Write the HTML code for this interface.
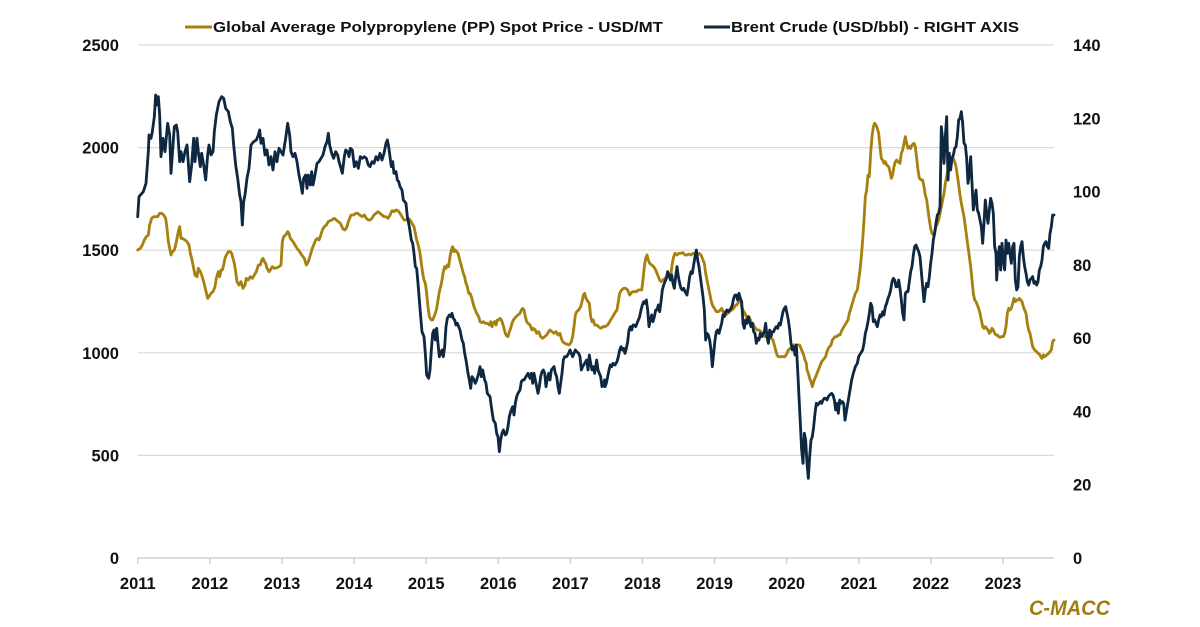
<!DOCTYPE html>
<html><head><meta charset="utf-8"><style>
html,body{margin:0;padding:0;background:#fff;}
svg{display:block;}
text{font-family:"Liberation Sans",Arial,sans-serif;font-weight:bold;fill:#111;}
</style></head><body>
<svg width="1200" height="627" viewBox="0 0 1200 627" xmlns="http://www.w3.org/2000/svg">
<rect width="1200" height="627" fill="#fff"/>
<!-- gridlines -->
<g stroke="#d9d9d9" stroke-width="1.2">
<line x1="137.8" y1="45" x2="1054" y2="45"/>
<line x1="137.8" y1="147.6" x2="1054" y2="147.6"/>
<line x1="137.8" y1="250.2" x2="1054" y2="250.2"/>
<line x1="137.8" y1="352.8" x2="1054" y2="352.8"/>
<line x1="137.8" y1="455.4" x2="1054" y2="455.4"/>
</g>
<g stroke="#d0d0d0" stroke-width="1.5">
<line x1="137.8" y1="558" x2="1054" y2="558"/>
<line x1="137.8" y1="558" x2="137.8" y2="564"/>
<line x1="209.9" y1="558" x2="209.9" y2="564"/>
<line x1="282" y1="558" x2="282" y2="564"/>
<line x1="354.1" y1="558" x2="354.1" y2="564"/>
<line x1="426.2" y1="558" x2="426.2" y2="564"/>
<line x1="498.3" y1="558" x2="498.3" y2="564"/>
<line x1="570.4" y1="558" x2="570.4" y2="564"/>
<line x1="642.5" y1="558" x2="642.5" y2="564"/>
<line x1="714.6" y1="558" x2="714.6" y2="564"/>
<line x1="786.7" y1="558" x2="786.7" y2="564"/>
<line x1="858.8" y1="558" x2="858.8" y2="564"/>
<line x1="930.9" y1="558" x2="930.9" y2="564"/>
<line x1="1003" y1="558" x2="1003" y2="564"/>
</g>
<!-- left axis labels -->
<g font-size="16.5" text-anchor="end">
<text x="119" y="51">2500</text>
<text x="119" y="153.6">2000</text>
<text x="119" y="256.2">1500</text>
<text x="119" y="358.8">1000</text>
<text x="119" y="461.4">500</text>
<text x="119" y="564">0</text>
</g>
<!-- right axis labels -->
<g font-size="16.5" text-anchor="start">
<text x="1073" y="51">140</text>
<text x="1073" y="124.3">120</text>
<text x="1073" y="197.6">100</text>
<text x="1073" y="270.9">80</text>
<text x="1073" y="344.1">60</text>
<text x="1073" y="417.4">40</text>
<text x="1073" y="490.7">20</text>
<text x="1073" y="564">0</text>
</g>
<!-- x labels -->
<g font-size="16.5" text-anchor="middle">
<text x="137.8" y="589">2011</text>
<text x="209.9" y="589">2012</text>
<text x="282" y="589">2013</text>
<text x="354.1" y="589">2014</text>
<text x="426.2" y="589">2015</text>
<text x="498.3" y="589">2016</text>
<text x="570.4" y="589">2017</text>
<text x="642.5" y="589">2018</text>
<text x="714.6" y="589">2019</text>
<text x="786.7" y="589">2020</text>
<text x="858.8" y="589">2021</text>
<text x="930.9" y="589">2022</text>
<text x="1003" y="589">2023</text>
</g>
<!-- legend -->
<line x1="185" y1="27" x2="212" y2="27" stroke="#A7800F" stroke-width="3"/>
<text x="213" y="32" font-size="15" textLength="450" lengthAdjust="spacingAndGlyphs">Global Average Polypropylene (PP) Spot Price - USD/MT</text>
<line x1="704" y1="27" x2="730" y2="27" stroke="#0E2841" stroke-width="3"/>
<text x="731" y="32" font-size="15" textLength="288" lengthAdjust="spacingAndGlyphs">Brent Crude (USD/bbl) - RIGHT AXIS</text>
<!-- C-MACC -->
<text x="1029" y="615" font-size="21" font-style="italic" fill="#A07C12" style="fill:#A07C12" textLength="81" lengthAdjust="spacingAndGlyphs">C-MACC</text>

<!-- series: gold (PP) -->
<g fill="none" stroke="#A7800F" stroke-width="8.5" stroke-linejoin="round" stroke-linecap="round">
<polyline transform="translate(135,85) scale(0.33333)" points="8,495 16,490 22,480 28,465 34,455 40,450 44,420 50,400 56,395 62,395 68,395 74,385 80,385 86,390 92,400 96,430 100,470 104,490 108,510 112,500 118,495 122,480 126,460 130,440 134,425 138,460 142,460 150,465 156,470 162,480 166,505 170,520 174,540 180,570 186,575 190,550 196,560 200,570 206,590 212,615 218,640 222,635 228,625 234,620 240,605 244,580 250,560 254,575 258,555 262,555 266,540 270,520 274,510 280,500 286,500 290,505 294,520 298,535 302,560 306,590 312,600 318,590 324,610 330,600 334,580 340,585 346,575 352,580 358,570 364,560 370,540 376,540 380,525 384,520 388,530 392,535 396,550 402,560 406,555 412,545 418,550 426,548 432,545 438,540 442,470 446,455 452,450 458,440 462,445 466,460 474,470 480,480 486,490 494,500 500,510 508,520 514,540 520,530 526,510 532,490 538,475 542,465 548,460 552,465 556,455 562,435 568,425 574,420 580,410 590,405 598,400 604,405 610,410 616,415 624,432 630,435 636,425 640,410 648,390 656,390 662,385 668,385 674,390 682,395 688,390 694,400 700,405"/>
<polyline transform="translate(370,140) scale(0.33333)" points="-5,240 0,240 6,235 12,225 18,220 24,215 30,220 36,225 42,230 48,230 54,235 60,225 66,212 72,215 78,210 84,212 90,220 96,230 102,240 108,240 114,235 120,240 126,250 132,260 136,280 140,300 146,320 150,340 154,370 158,400 162,420 166,430 170,460 174,500 178,530 184,540 188,540 192,530 196,520 200,505 204,480 208,455 212,440 216,420 220,395 224,380 228,385 232,375 236,380 240,350 244,330 248,320 252,335 256,330 260,335 264,340 268,355 272,370 276,385 280,400 284,410 288,430 292,440 296,460 300,460 304,470 308,485 312,500 316,510 320,520 326,530 330,545 336,548 340,545 346,550 352,550 358,555 362,545 366,560 370,548 374,545 378,555 382,540 386,540 390,535 394,540 398,550 402,565 406,580 410,588 414,590 418,575 422,565 426,550 430,540 434,535 438,530 444,525 450,520 454,510 458,505 462,510 466,530 470,545 474,550 480,555 486,570 490,565 496,570 500,580 506,575 512,590 518,595 524,590 530,585 536,575 540,570 546,575 552,580 558,575 564,585 570,580 574,595 578,605 584,610 590,612 596,615 600,612 604,605 608,590 612,560 616,525 620,515 626,510 632,500 636,485 640,465 644,460 648,475 654,485 658,490 662,530 666,545 670,540 674,555 680,555 686,560 692,565 700,560"/>
<polyline transform="translate(605,230) scale(0.33333)" points="-5,290 0,290 8,285 14,275 20,265 26,255 32,245 36,240 40,215 44,190 50,180 56,175 62,175 68,180 74,195 78,190 82,185 88,185 94,185 100,180 106,180 110,180 114,150 118,110 122,85 126,75 130,90 134,100 140,105 146,110 152,120 158,135 164,150 168,155 174,150 180,145 186,140 192,135 198,130 202,100 206,80 210,70 216,75 222,70 228,70 234,68 240,75 246,75 252,72 258,75 264,70 270,72 276,75 282,70 288,75 294,90 298,100 302,130 306,150 310,170 314,190 318,210 322,225 328,235 334,245 340,245 346,240 350,235 356,250 362,255 368,250 374,245 380,240 386,235 392,225 396,225 400,215 406,205 410,230 416,245 420,250 426,265 432,260 436,270 440,280 444,280 448,290 452,295 456,300 462,300 468,305 474,315 480,320 486,320 492,320 498,325 504,330 508,345 512,360 516,375 520,380 526,380 530,380 536,380 540,380 546,370 550,360 556,355 560,350 566,345 572,345 578,345 584,345 588,355 592,365 596,375 600,390 604,400 606,420 610,430 614,445 618,455 622,470 626,455 630,445 634,435 638,425 642,415 646,405 650,395 654,390 658,385 662,380 666,365 670,355 674,350 678,345 682,330 686,325 690,320 696,320 700,315"/>
<polyline transform="translate(840,100) scale(0.33333)" points="-5,705 0,705 6,690 12,680 18,670 24,660 28,640 34,620 40,600 46,580 52,570 56,540 60,510 64,470 68,420 72,360 76,290 80,270 84,225 88,230 92,160 96,110 100,80 104,70 108,75 112,85 116,100 120,140 124,175 128,180 132,190 136,185 140,195 146,200 150,215 154,235 158,225 162,200 166,185 170,180 174,185 180,190 184,160 188,150 192,130 196,110 200,130 204,145 208,140 212,145 216,135 222,130 226,140 230,175 234,210 238,235 244,240 248,240 252,260 256,285 260,300 264,330 268,360 272,385 276,400 280,405 284,395 288,380 292,370 296,360 300,340 304,320 308,300 312,280 316,250 320,230 324,210 328,200 332,185 336,180 340,175 344,185 348,200 352,225 356,255 360,285 364,310 368,330 372,350 376,380 380,410 384,440 388,470 392,500 396,540 400,580 404,600 408,605 412,615 416,625 420,640 424,660 428,680 432,685 436,680 440,685 444,690 448,700 452,695 456,685 460,690 464,700 468,705 472,705 476,710 480,712 484,710 490,710 494,700 498,680 502,640 506,625 510,630 514,625 518,610 522,595 526,605 530,600 534,600 538,595 542,600 546,605 550,620 554,630 558,640 562,670 566,690 570,700 574,720 578,740 584,750 590,755 594,760 598,762 602,770 606,775 610,765 614,770 620,765 626,760 630,755 634,750 638,725 642,720"/>
</g>

<!-- series: navy (Brent) -->
<g fill="none" stroke="#0E2841" stroke-width="8.5" stroke-linejoin="round" stroke-linecap="round">
<polyline transform="translate(135,85) scale(0.33333)" points="8,395 12,335 25,320 33,295 40,200 42,150 48,160 52,140 58,95 62,30 66,60 70,35 74,90 78,215 84,160 90,200 98,115 104,150 108,265 114,180 118,125 124,120 128,140 134,230 138,200 144,230 150,200 156,180 164,290 170,240 176,160 180,230 186,160 190,200 196,245 200,205 206,240 212,285 218,210 222,180 228,210 234,200 238,140 244,90 252,50 260,35 266,40 272,70 280,80 286,110 292,130 296,180 302,240 308,280 314,330 318,350 322,420 326,350 330,330 336,280 342,250 348,180 356,170 364,165 370,150 374,135 378,175 384,160 390,210 396,195 402,240 408,215 414,255 420,200 426,230 432,190 438,200 444,210 452,160 458,115 464,150 468,200 474,215 480,205 486,230 492,270 498,300 502,325 506,280 512,270 516,310 520,270 526,300 530,260 534,300 540,270 546,235 552,230 558,220 564,210 570,185 576,170 580,145 584,180 590,205 596,220 602,200 608,210 612,230 618,250 622,265 628,215 632,195 638,200 642,215 646,190 652,195 658,245 664,230 670,250 676,215 682,220 688,215 694,220 700,240"/>
<polyline transform="translate(370,140) scale(0.33333)" points="-5,75 0,80 6,65 12,70 18,50 24,60 30,40 36,60 42,40 48,10 52,0 56,20 60,50 64,80 68,65 72,100 78,95 82,120 86,125 90,140 96,150 100,180 104,185 108,190 112,230 118,260 124,300 128,310 132,340 136,380 140,385 144,430 148,480 152,530 156,575 162,590 166,640 170,705 176,715 180,690 184,630 188,580 192,570 196,600 200,565 204,610 208,650 212,640 216,630 220,650 224,620 228,560 232,535 238,525 242,530 246,520 250,535 254,540 258,555 262,550 266,560 270,570 276,600 280,610 284,640 288,660 294,700 298,720 302,745 306,710 310,715 316,730 320,720 326,700 330,680 334,710 338,690 344,720 348,730 352,760 356,765 360,770 364,800 370,840 376,850 380,880 384,890 388,935 392,900 396,880 400,870 406,885 410,880 414,860 418,830 422,815 428,800 432,825 436,790 440,770 444,760 450,750 454,725 458,720 462,720 468,710 474,700 480,715 484,700 488,730 492,700 496,720 500,740 504,760 508,740 512,710 516,695 520,690 524,700 528,740 532,715 536,700 540,720 544,690 548,685 552,680 556,700 560,710 564,740 568,760 572,730 576,700 580,660 584,650 590,650 596,640 600,630 604,640 608,650 612,640 616,630 620,635 626,640 630,650 634,690 638,680 644,670 650,660 654,690 658,645 662,670 666,690 670,680 674,700 680,660 684,690 688,700 692,710 696,740 700,735 704,720"/>
<polyline transform="translate(605,230) scale(0.33333)" points="-1,450 0,470 4,460 8,440 12,420 16,405 20,410 24,400 30,405 36,395 40,380 44,360 48,350 52,360 56,355 60,370 64,355 68,335 72,300 76,290 80,300 84,285 88,285 92,290 96,280 100,270 104,260 108,240 112,225 116,215 120,220 124,210 128,240 132,290 136,270 140,255 144,275 148,260 152,240 156,240 160,225 164,245 168,215 172,180 176,165 180,155 184,145 188,125 192,135 196,150 200,135 204,160 208,175 212,140 216,110 220,140 224,160 228,175 232,180 236,175 240,185 246,195 250,170 254,140 258,125 262,130 266,105 270,80 274,60 278,90 282,110 286,140 290,170 294,200 298,240 302,330 306,310 310,315 314,330 318,360 322,410 326,370 330,330 334,305 338,300 342,310 346,295 350,280 354,255 358,260 362,245 366,240 370,245 374,240 378,235 382,225 386,205 390,195 394,195 398,210 402,190 406,205 410,215 414,280 418,295 422,270 426,280 430,260 434,275 438,290 442,280 446,305 450,310 454,340 458,325 462,330 466,310 470,320 474,315 478,305 482,280 486,320 490,340 494,300 498,320 502,305 506,305 510,295 514,290 518,295 522,280 526,285 530,265 534,245 538,235 542,230 546,250 550,270 554,300 558,340 562,360 566,350 570,375 574,345 578,420 582,500 586,580 590,660 594,700 598,610 602,630 606,700 610,745 614,680 618,630 622,620 626,590 630,550 634,520 638,525 642,520 646,515 650,520 654,510 658,505 662,505 666,510 670,500 674,495 680,490 684,495 688,510 692,540 696,520 700,550 704,510 708,520 712,515 716,520 720,570"/>
<polyline transform="translate(840,100) scale(0.33333)" points="15,960 35,840 40,820 46,800 52,790 56,770 62,760 68,750 72,730 76,700 80,685 84,665 88,640 92,610 96,620 100,665 104,660 108,670 112,680 116,660 120,645 124,650 128,635 132,645 136,620 140,610 144,595 148,585 152,570 156,545 160,535 164,540 168,560 172,560 176,540 180,565 184,600 188,640 192,660 196,580 200,575 204,575 208,545 212,515 216,500 220,465 224,440 228,435 232,445 236,455 240,470 244,515 248,560 252,605 256,570 260,550 264,560 268,530 272,490 276,460 280,420 284,400 288,370 292,345 296,340 300,320 304,80 308,120 312,190 316,110 320,50 324,240 328,160 332,210 336,175 340,165 344,145 348,140 352,110 356,60 360,55 364,35 368,70 372,130 376,135 380,175 384,250 388,220 392,170 396,250 400,330 404,300 408,270 412,330 416,340 420,360 424,380 428,430 432,370 436,300 440,340 444,370 448,330 452,295 456,310 460,340 464,440 468,460 470,540 474,470 478,440 482,510 486,430 490,480 494,510 498,420 502,460 506,430 510,460 514,490 518,440 522,430 526,540 530,570 534,560 538,470 542,440 546,425 550,470 554,500 558,520 562,545 566,555 570,540 574,535 578,530 582,550 586,545 590,555 594,545 598,510 602,500 606,480 610,440 614,430 618,425 622,440 626,445 630,400 634,380 638,345 642,345"/>
</g>
</svg>
</body></html>
